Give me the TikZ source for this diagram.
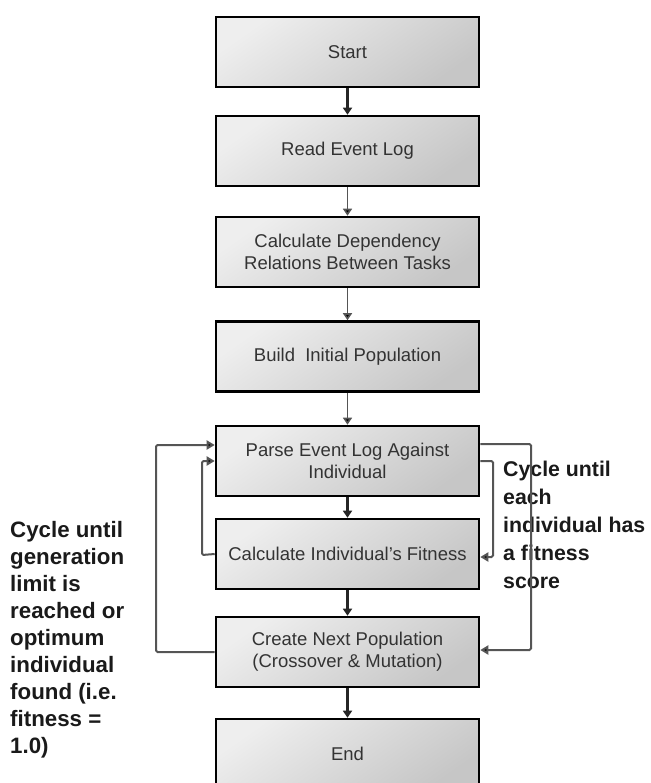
\documentclass[tikz,border=0pt]{standalone}
\usepackage{fontspec}
\setmainfont{Liberation Sans}
\usetikzlibrary{arrows.meta}
\definecolor{boxtext}{HTML}{333333}
\definecolor{looptext}{HTML}{1A1A1A}
\definecolor{wire}{HTML}{555555}
\definecolor{boxlight}{HTML}{EEEEEE}
\definecolor{boxdark}{HTML}{C6C6C6}
\tikzset{
  stepbox/.style={draw=black, line width=2.6pt, rectangle,
    minimum width=263pt, minimum height=70pt, inner sep=0pt,
    top color=boxlight, bottom color=boxdark, shading angle=35,
    text=boxtext, align=center,
    font=\fontsize{18.5}{22}\selectfont},
  flowdark/.style={draw=black!85, line width=2.2pt,
    -{Triangle[length=7pt,width=9pt]}},
  flowgray/.style={draw=wire, line width=1.6pt,
    -{Triangle[length=7pt,width=9pt,fill=black]}},
  loopline/.style={draw=wire, line width=2pt, rounded corners=1.5pt,
    -{Triangle[length=8pt,width=9pt,fill=black]}},
  note/.style={text=looptext, align=left, inner sep=0pt, anchor=north west,
    font=\bfseries\fontsize{22.3}{27}\selectfont}
}
\begin{document}
\begin{tikzpicture}[x=1pt,y=-1pt]
\useasboundingbox (0,0) rectangle (650,783);
\begin{scope}
\clip (0,0) rectangle (650,783);

% main steps
\node[stepbox] (start) at (347.5,52)  {Start};
\node[stepbox] (read)  at (347.5,151) {Read Event Log};
\node[stepbox] (dep)   at (347.5,252) {Calculate Dependency\\Relations Between Tasks};
\node[stepbox] (build) at (347.5,356.5) {Build\ \ Initial Population};
\node[stepbox] (parse) at (347.5,461) {Parse Event Log Against\\Individual};
\node[stepbox] (fit)   at (347.5,554) {Calculate Individual's Fitness};
\node[stepbox] (next)  at (347.5,652) {Create Next Population\\(Crossover \& Mutation)};
\node[stepbox] (stop)  at (347.5,754) {End};

% loop descriptions
\node[note] (genloop) at (10,521) {Cycle until\\generation\\limit is\\reached or\\optimum\\individual\\found (i.e.\\fitness =\\1.0)};
\node[note, font=\bfseries\fontsize{21.3}{28}\selectfont] (indloop) at (503,461) {Cycle until\\each\\individual has\\a fitness\\score};

% straight flow
\draw[flowdark] (start.south) -- (read.north);
\draw[flowgray] (read.south)  -- (dep.north);
\draw[flowgray] (dep.south)   -- (build.north);
\draw[flowgray] (build.south) -- (parse.north);
\draw[flowdark] (parse.south) -- (fit.north);
\draw[flowdark] (fit.south)   -- (next.north);
\draw[flowdark] (next.south)  -- (stop.north);

% generation loop (left, outer)
\draw[loopline] (next.west) -- (156,652) -- (156,445) -- (parse.west |- 0,445);
% individual loop (left, inner)
\draw[loopline] (fit.west) -- (202,555) -- (202,461) -- (parse.west);
% individual loop (right, inner)
\draw[loopline] (parse.east |- 0,461) -- (493,461) -- (493,557) -- (fit.east |- 0,557);
% generation loop (right, outer)
\draw[loopline] (parse.east |- 0,444) -- (531,444) -- (531,650) -- (next.east |- 0,650);
\end{scope}
\end{tikzpicture}
\end{document}
